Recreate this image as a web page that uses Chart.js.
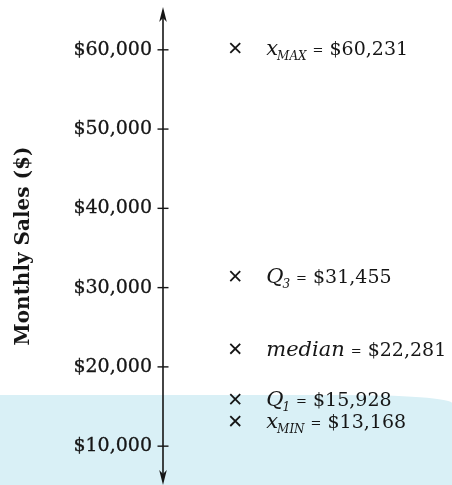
<!DOCTYPE html>
<html>
<head>
<meta charset="utf-8">
<script src="https://cdn.jsdelivr.net/npm/chart.js@4.4.1/dist/chart.umd.min.js"></script>
<style>
  html, body { margin: 0; padding: 0; background: #fff; }
  #wrap { position: relative; width: 452px; height: 485px; overflow: hidden; }
  #band { position: absolute; left: 0; top: 395px; width: 452px; height: 90px;
          background: #d9f0f6; border-top-right-radius: 110px 8px; }
  canvas { position: absolute; left: 0; top: 0; }
</style>
</head>
<body>
<div id="wrap">
  <div id="band"></div>
  <canvas id="c" width="452" height="485"></canvas>
</div>
<script>
// Five-number summary of monthly sales
const statValues     = [60231, 31455, 22281, 15928, 13168];
const statSymbols    = ['x', 'Q', 'median', 'Q', 'x'];
const statSubscripts = ['MAX', '3', '', '1', 'MIN'];

// Vertical axis
const tickValues = [10000, 20000, 30000, 40000, 50000, 60000];
const axisRange  = [5100, 65400];
const axisTitle  = 'Monthly Sales ($)';

const ink = '#161616';
const serif = "'DejaVu Serif', 'Liberation Serif', serif";
const money = v => '$' + Number(v).toLocaleString('en-US');

// Arrowhead with a notched back; dir = 1 points up, -1 points down
function arrowHead(ctx, x, tipY, dir) {
  ctx.beginPath();
  ctx.moveTo(x, tipY);
  ctx.lineTo(x - 3.8, tipY + dir * 15);
  ctx.lineTo(x, tipY + dir * 11);
  ctx.lineTo(x + 3.8, tipY + dir * 15);
  ctx.closePath();
  ctx.fill();
}

// Axis line with arrows at both ends and ticks crossing the line
const axisPlugin = {
  id: 'arrowAxis',
  afterDraw(chart) {
    const { ctx, chartArea } = chart;
    const ys = chart.scales.y;
    const x0 = ys.right;
    ctx.save();
    ctx.strokeStyle = ink;
    ctx.fillStyle = ink;
    ctx.lineWidth = 1.6;
    ctx.beginPath();
    ctx.moveTo(x0, chartArea.top + 6);
    ctx.lineTo(x0, chartArea.bottom - 6);
    ctx.stroke();
    ctx.lineWidth = 1.4;
    ys.ticks.forEach(t => {
      const py = ys.getPixelForValue(t.value);
      ctx.beginPath();
      ctx.moveTo(x0 - 5.5, py);
      ctx.lineTo(x0 + 5.5, py);
      ctx.stroke();
    });
    arrowHead(ctx, x0, chartArea.top, 1);
    arrowHead(ctx, x0, chartArea.bottom, -1);
    ctx.restore();
  }
};

// Statistic labels next to each marker: italic symbol, subscript, "=", value
const labelPlugin = {
  id: 'statLabels',
  afterDatasetsDraw(chart) {
    const { ctx } = chart;
    const pts = chart.getDatasetMeta(0).data;
    ctx.save();
    ctx.fillStyle = ink;
    ctx.textBaseline = 'alphabetic';
    ctx.textAlign = 'left';
    pts.forEach((pt, i) => {
      const base = pt.y + 7;
      let x = pt.x + 31;
      ctx.font = 'italic 21px ' + serif;
      ctx.fillText(statSymbols[i], x, base);
      x += ctx.measureText(statSymbols[i]).width;
      if (statSubscripts[i]) {
        ctx.font = 'italic 12px ' + serif;
        ctx.fillText(statSubscripts[i], x - 1, base + 5);
        x += ctx.measureText(statSubscripts[i]).width - 1;
      }
      x += 6;
      ctx.font = '13px ' + serif;
      ctx.fillText('=', x, base - 1);
      x += ctx.measureText('=').width + 6;
      ctx.font = '19px ' + serif;
      ctx.fillText(money(statValues[i]), x, base);
    });
    ctx.restore();
  }
};

new Chart(document.getElementById('c').getContext('2d'), {
  type: 'scatter',
  data: {
    datasets: [{
      data: statValues.map(v => ({ x: 0, y: v })),
      pointStyle: 'crossRot',
      pointRadius: 7,
      pointHoverRadius: 7,
      pointBorderColor: ink,
      pointBackgroundColor: ink,
      pointBorderWidth: 1.8,
      showLine: false,
      clip: false
    }]
  },
  options: {
    responsive: false,
    animation: false,
    devicePixelRatio: 1,
    events: [],
    layout: { autoPadding: false, padding: { top: 7, bottom: 0, left: 0, right: 0 } },
    plugins: { legend: { display: false }, tooltip: { enabled: false } },
    scales: {
      x: { type: 'linear', display: false, min: -1, max: 3 },
      y: {
        type: 'linear',
        position: 'left',
        min: axisRange[0],
        max: axisRange[1],
        grid: { display: false },
        border: { display: false },
        afterBuildTicks: s => { s.ticks = tickValues.map(v => ({ value: v })); },
        afterFit: s => { s.width = 163; s.paddingTop = 0; s.paddingBottom = 0; },
        ticks: {
          padding: 3,
          color: ink,
          font: { family: serif, size: 19, lineHeight: 0.05 },
          textStrokeColor: ink,
          textStrokeWidth: 0.3,
          callback: v => money(v)
        },
        title: {
          display: true,
          text: axisTitle,
          color: ink,
          font: { family: serif, size: 20, weight: 'bold', lineHeight: 1.2 },
          padding: { top: 12, bottom: 0 }
        }
      }
    }
  },
  plugins: [axisPlugin, labelPlugin]
});
</script>
</body>
</html>
